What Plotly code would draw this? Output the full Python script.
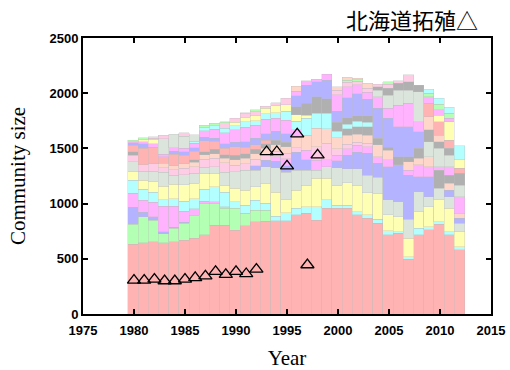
import plotly.graph_objects as go

years = list(range(1980, 2013))

# stacked layers (bottom to top), values per year 1980..2012
s01_P = [634,646,655,646,655,670,685,716,806,806,760,800,836,840,845,845,897,912,851,957,957,957,897,867,821,716,731,495,716,761,815,716,580]
s02_G = [181,235,196,80,120,150,210,285,197,151,197,112,106,102,0,0,0,0,0,0,0,0,0,0,0,0,0,0,0,0,0,0,0]
s03_B = [150,40,30,20,10,10,0,0,0,0,0,0,0,0,0,0,0,0,0,0,0,0,0,0,0,0,0,0,0,0,0,0,0]
s04_M = [127,110,130,230,190,100,60,20,15,15,0,0,0,0,0,0,0,0,0,0,0,0,0,0,0,0,0,0,0,0,0,0,0]
s05_C = [121,100,90,60,70,90,90,110,135,130,60,75,90,60,40,70,60,60,121,76,30,30,30,30,37,39,15,24,60,30,21,30,30]
s06_Y = [75,80,100,120,130,150,140,140,120,60,120,135,120,180,220,120,165,196,257,196,180,200,240,200,235,142,136,166,151,181,197,211,136]
s07_W = [90,80,90,130,80,90,90,60,60,120,150,180,150,150,220,250,180,136,75,106,160,130,150,160,145,136,136,172,181,91,105,106,75]
s08_B = [0,0,0,0,0,0,0,0,0,0,0,0,40,60,60,60,165,91,0,0,60,120,150,200,127,302,332,402,136,181,0,60,45]
s09_M = [0,0,0,0,0,0,0,0,0,0,0,0,0,0,40,60,0,90,90,60,50,60,60,60,60,60,0,45,106,91,0,0,0]
s10_L = [60,60,70,40,50,60,60,70,80,90,60,60,60,50,50,50,40,0,120,150,60,40,30,30,0,0,0,0,0,0,0,0,0]
s11_O = [0,0,0,40,40,40,40,40,40,40,50,50,50,60,60,60,100,136,170,135,100,80,70,70,106,90,0,76,60,90,0,61,46]
s12_K = [30,0,0,0,0,0,20,30,40,30,40,40,40,40,40,40,0,0,0,0,0,60,70,80,60,25,75,45,90,0,166,75,0]
s13_P = [62,150,150,60,100,80,80,100,70,60,80,60,40,30,0,0,0,0,0,0,0,0,0,0,0,0,0,0,0,0,0,0,0]
s14_B = [20,40,0,0,30,30,30,30,30,40,40,50,60,60,80,80,0,0,0,0,0,0,0,0,0,0,0,0,0,0,0,0,0]
s15_M = [10,20,30,20,32,30,40,60,80,100,110,130,120,130,120,120,60,0,0,0,0,0,0,0,0,0,0,0,0,0,31,76,151]
s16_C = [0,0,0,0,0,0,20,30,30,40,40,50,40,50,50,80,80,151,135,137,60,40,50,40,0,0,0,0,0,0,0,0,0]
s17_Y = [0,16,40,0,0,0,0,0,0,0,30,40,50,50,60,60,60,30,0,0,0,0,0,0,0,0,0,0,0,0,0,0,0]
s18_W = [0,0,0,140,120,110,60,0,0,0,0,0,0,0,0,0,0,0,0,0,0,0,0,0,0,0,0,0,0,136,165,105,105]
s19_K = [0,0,0,0,0,0,0,0,0,0,0,0,0,0,0,0,70,106,150,135,80,60,50,60,0,0,0,0,0,106,61,60,106]
s20_B = [0,0,0,0,0,0,0,0,0,0,0,0,0,0,0,0,100,166,135,166,100,180,200,150,272,262,272,272,151,0,0,0,0]
s21_M = [0,0,0,0,0,0,0,0,0,0,0,0,0,0,0,0,40,39,22,55,150,100,80,60,106,91,196,211,91,0,0,0,0]
s22_W = [0,0,0,0,0,0,0,0,0,0,0,0,0,0,0,0,0,0,0,0,0,0,0,0,60,120,136,121,272,0,0,0,0]
s23_K = [0,0,0,0,0,0,0,0,0,0,0,0,0,0,0,0,0,0,0,0,0,0,0,0,30,60,60,75,60,0,0,0,0]
s24_L = [0,0,10,32,0,32,0,0,0,50,35,32,30,22,29,59,0,0,0,0,40,40,30,40,21,40,24,61,0,0,0,0,0]
s25_G = [15,20,15,0,0,0,0,19,24,10,0,10,16,0,0,0,0,0,0,0,0,20,15,0,0,21,0,0,0,0,0,0,0]
s26_O = [0,0,0,0,0,0,0,0,0,0,0,0,0,0,0,0,48,0,0,0,32,27,13,43,0,0,0,0,0,120,60,0,0]
s27_P = [0,0,0,0,0,0,0,0,0,0,0,0,0,0,0,0,0,0,0,0,0,0,0,0,0,0,0,0,0,121,121,76,45]
s28_Y = [0,0,0,0,0,0,0,0,0,0,0,0,0,0,0,0,0,0,0,0,0,0,0,0,0,0,0,0,0,0,60,166,76]
s29_M = [0,0,0,0,0,0,0,0,0,0,0,0,0,0,0,0,0,0,0,0,0,0,0,0,0,0,0,0,0,61,46,30,0]
s30_G = [0,0,0,0,0,0,0,0,0,0,0,0,0,0,0,0,0,0,0,0,0,0,0,0,0,0,0,0,0,30,50,46,0]
s31_C = [0,0,0,0,0,0,0,0,0,0,0,0,0,0,0,0,0,0,0,0,0,0,0,0,0,0,0,0,0,36,56,54,127]

# 北海道拓殖 community sizes (triangles)
tri_years = list(range(1980, 1999))
tri_values = [305,305,314,300,300,314,329,344,385,358,385,365,405,1470,1470,1340,1630,445,1440]

palette = {
    "P": "#FFB3B3", "G": "#B3FFB3", "B": "#B3B3FF", "M": "#FFB3FF", "C": "#B3FFFF",
    "Y": "#FFFFB3", "W": "#DCE5DC", "L": "#FFCCE6", "O": "#FFD6CA", "K": "#B0B0B0",
}

layers = [
    ("s01_P", s01_P), ("s02_G", s02_G), ("s03_B", s03_B), ("s04_M", s04_M), ("s05_C", s05_C),
    ("s06_Y", s06_Y), ("s07_W", s07_W), ("s08_B", s08_B), ("s09_M", s09_M), ("s10_L", s10_L),
    ("s11_O", s11_O), ("s12_K", s12_K), ("s13_P", s13_P), ("s14_B", s14_B), ("s15_M", s15_M),
    ("s16_C", s16_C), ("s17_Y", s17_Y), ("s18_W", s18_W), ("s19_K", s19_K), ("s20_B", s20_B),
    ("s21_M", s21_M), ("s22_W", s22_W), ("s23_K", s23_K), ("s24_L", s24_L), ("s25_G", s25_G),
    ("s26_O", s26_O), ("s27_P", s27_P), ("s28_Y", s28_Y), ("s29_M", s29_M), ("s30_G", s30_G),
    ("s31_C", s31_C),
]

fig = go.Figure()
for name, vals in layers:
    col = palette[name[-1]]
    fig.add_trace(go.Bar(
        x=years, y=[v if v else None for v in vals], name=name,
        width=1.007, offset=-0.6,
        marker=dict(color=col, line=dict(color="rgba(190,190,190,0.7)", width=0.5)),
        showlegend=False, hoverinfo="skip",
    ))

fig.add_trace(go.Scatter(
    x=tri_years, y=tri_values, mode="markers",
    marker=dict(symbol="triangle-up-open", size=11.5, color="black", line=dict(width=1.3, color="black")),
    showlegend=False, hoverinfo="skip",
))

tickfont = dict(family="Liberation Sans, Arial, sans-serif", size=13, color="black", weight="bold")
titlefont = dict(family="Liberation Serif, Times New Roman, serif", size=21, color="black")

fig.update_layout(
    width=510, height=370,
    margin=dict(l=83, r=19, t=38, b=56, autoexpand=False),
    paper_bgcolor="white", plot_bgcolor="white",
    barmode="stack", bargap=0,
    annotations=[dict(
        text="北海道拓殖△", x=1.0, xref="paper", xanchor="right", xshift=-11,
        y=1.0, yref="paper", yanchor="middle", yshift=19, showarrow=False,
        font=dict(family="Noto Sans CJK JP", size=22, color="black"),
    )],
)
fig.update_xaxes(
    range=[1975, 2015], dtick=5, tick0=1975, ticks="inside", ticklen=5, tickwidth=2,
    tickcolor="black", showline=True, linecolor="black", linewidth=2, mirror="ticks",
    showgrid=False, zeroline=False, tickfont=tickfont, automargin=False,
    ticklabelstandoff=3,
    title=dict(text="Year", font=titlefont, standoff=15),
)
fig.update_yaxes(
    range=[0, 2500], dtick=500, ticks="inside", ticklen=5, tickwidth=2,
    tickcolor="black", showline=True, linecolor="black", linewidth=2, mirror="ticks",
    showgrid=False, zeroline=False, tickfont=tickfont, automargin=False,
    title=dict(text="Community size", font=titlefont, standoff=18),
)

fig.write_html(
    "out.html",
    config={"displayModeBar": False, "staticPlot": True},
    post_script="document.body.style.margin='0';document.body.style.overflow='hidden';",
)
